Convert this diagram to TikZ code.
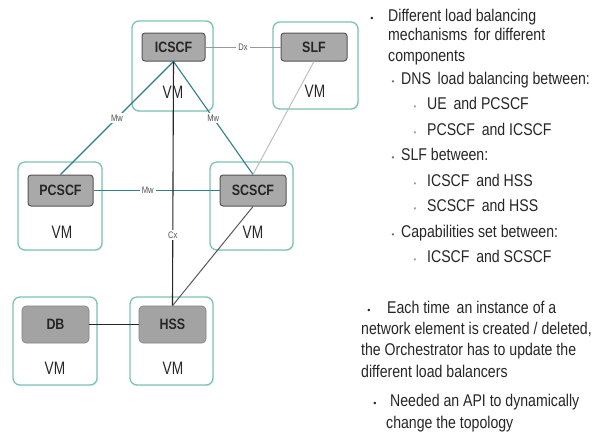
\documentclass[tikz,border=0pt]{standalone}
\usepackage{fontspec}
\setmainfont{Liberation Sans}
\newfontfamily\narrowfont[FakeStretch=0.83]{Liberation Sans}
\newfontfamily\vmfont[FakeStretch=0.76]{Liberation Sans}
\newfontfamily\tagfont[FakeStretch=0.8]{Liberation Sans}
\usetikzlibrary{shadows}

\definecolor{vmedge}{HTML}{7DC3B4}
\definecolor{boxfill}{HTML}{A9A9A9}
\definecolor{boxedge}{HTML}{555555}
\definecolor{dbfill}{HTML}{A3A3A3}
\definecolor{mwline}{HTML}{2E7F87}
\definecolor{ink}{HTML}{262626}
\definecolor{dotgray}{HTML}{9A9A9A}

\tikzset{
  vmbox/.style={draw=vmedge, line width=1.3pt, rounded corners=7pt, fill=white,
    drop shadow={opacity=0.12, shadow xshift=1.2pt, shadow yshift=-1.2pt}},
  vmlabel/.style={font=\vmfont\fontsize{18}{18}\selectfont, text=ink, inner sep=0pt},
  fnbox/.style={draw=boxedge, fill=boxfill, rounded corners=3pt, line width=1pt,
    font=\narrowfont\bfseries\fontsize{15}{15}\selectfont, text=ink, inner sep=0pt},
  dbbox/.style={draw=dbfill!80!black, fill=dbfill, rounded corners=4pt, line width=0.6pt,
    font=\narrowfont\bfseries\fontsize{15}{15}\selectfont, text=ink, inner sep=0pt},
  tag/.style={font=\tagfont\fontsize{9.5}{9.5}\selectfont, text=ink!80, fill=white, inner sep=2pt},
  mwlink/.style={draw=mwline, line width=1.1pt},
  txt/.style={anchor=base west, font=\narrowfont\fontsize{17}{17}\selectfont, text=ink, inner sep=0pt},
  blt/.style={anchor=base, font=\fontsize{9}{9}\selectfont, text=ink, inner sep=0pt},
  sblt/.style={anchor=base, font=\fontsize{8}{8}\selectfont, text=dotgray, inner sep=0pt},
}

\begin{document}
\begin{tikzpicture}[x=1pt, y=-1pt]
\useasboundingbox (0,0) rectangle (595,439);

% virtual machine frames
\node[vmbox, minimum width=81pt, minimum height=90pt] (icscfvm) at (172.5,66) {};
\node[vmbox, minimum width=85pt, minimum height=87pt] (slfvm) at (315.5,65.5) {};
\node[vmbox, minimum width=84pt, minimum height=88pt] (pcscfvm) at (60,206) {};
\node[vmbox, minimum width=83pt, minimum height=88pt] (scscfvm) at (251.5,206) {};
\node[vmbox, minimum width=84pt, minimum height=88pt] (dbvm) at (55,341) {};
\node[vmbox, minimum width=83pt, minimum height=88pt] (hssvm) at (171.5,341) {};

% VM captions
\node[vmlabel] (icscfvml) at (173,92) {VM};
\node[vmlabel] (slfvml) at (315,91) {VM};
\node[vmlabel] (pcscfvml) at (62,232) {VM};
\node[vmlabel] (scscfvml) at (253,232) {VM};
\node[vmlabel] (dbvml) at (55,368) {VM};
\node[vmlabel] (hssvml) at (173,368) {VM};

% network functions
\node[fnbox, minimum width=63pt, minimum height=28pt] (icscf) at (173.5,47) {ICSCF};
\node[fnbox, minimum width=66pt, minimum height=28pt] (slf) at (314,47) {SLF};
\node[fnbox, minimum width=65pt, minimum height=31pt] (pcscf) at (60.5,190.5) {PCSCF};
\node[fnbox, minimum width=66pt, minimum height=31pt] (scscf) at (253,190.5) {SCSCF};
\node[dbbox, minimum width=67pt, minimum height=37pt] (db) at (55.5,324.5) {DB};
\node[dbbox, minimum width=67pt, minimum height=37pt] (hss) at (172.5,324.5) {HSS};

% interfaces
\draw[draw=black!40, line width=0.8pt] (icscf.east) -- node[tag] (dx) {Dx} (slf.west);
\draw[mwlink] (icscf.south) -- node[tag] (mw1) {Mw} (pcscf.north);
\draw[mwlink] (icscf.south) -- node[tag] (mw2) {Mw} (scscf.north);
\draw[mwlink] (pcscf.east) -- node[tag, pos=0.43] (mw3) {Mw} (scscf.west);
\draw[draw=ink, line width=1.1pt] (icscf.south) -- node[tag, pos=0.71] (cx) {Cx} (hss.north);
\draw[draw=black!25, line width=1pt] (slf.south) -- (scscf.north);
\draw[draw=black!65, line width=1pt] (scscf.south) -- (hss.north);
\draw[draw=ink, line width=1.1pt] (db.east) -- (hss.west);

% notes
\node[blt] (b1) at (372,21) {\textbullet};
\node[txt] (l1) at (388,21) {Different load balancing};
\node[txt] (l2) at (388,41) {mechanisms\, for different};
\node[txt] (l3) at (388,61) {components};
\node[sblt, text=ink!70] (b2) at (393,84) {\textbullet};
\node[txt] (l4) at (401,84) {DNS\, load balancing between:};
\node[sblt] (b3) at (415,109.5) {\textbullet};
\node[txt] (l5) at (427,109.5) {UE\, and PCSCF};
\node[sblt] (b4) at (415,135) {\textbullet};
\node[txt] (l6) at (427,135) {PCSCF\, and ICSCF};
\node[sblt, text=ink!70] (b5) at (393,160.5) {\textbullet};
\node[txt] (l7) at (401,160.5) {SLF between:};
\node[sblt] (b6) at (415,186) {\textbullet};
\node[txt] (l8) at (427,186) {ICSCF\, and HSS};
\node[sblt] (b7) at (415,211.5) {\textbullet};
\node[txt] (l9) at (427,211.5) {SCSCF\, and HSS};
\node[sblt, text=ink!70] (b8) at (393,237) {\textbullet};
\node[txt] (l10) at (401,237) {Capabilities set between:};
\node[sblt] (b9) at (415,262.5) {\textbullet};
\node[txt] (l11) at (427,262.5) {ICSCF\, and SCSCF};

\node[blt] (b10) at (369,313) {\textbullet};
\node[txt] (l12) at (387,313) {Each time\, an instance of a};
\node[txt] (l13) at (361,334) {network element is created / deleted,};
\node[txt] (l14) at (361,355.5) {the Orchestrator has to update the};
\node[txt] (l15) at (361,377) {different load balancers};
\node[blt] (b11) at (375,406) {\textbullet};
\node[txt] (l16) at (390,406) {Needed an API to dynamically};
\node[txt] (l17) at (386,428) {change the topology};
\end{tikzpicture}
\end{document}
